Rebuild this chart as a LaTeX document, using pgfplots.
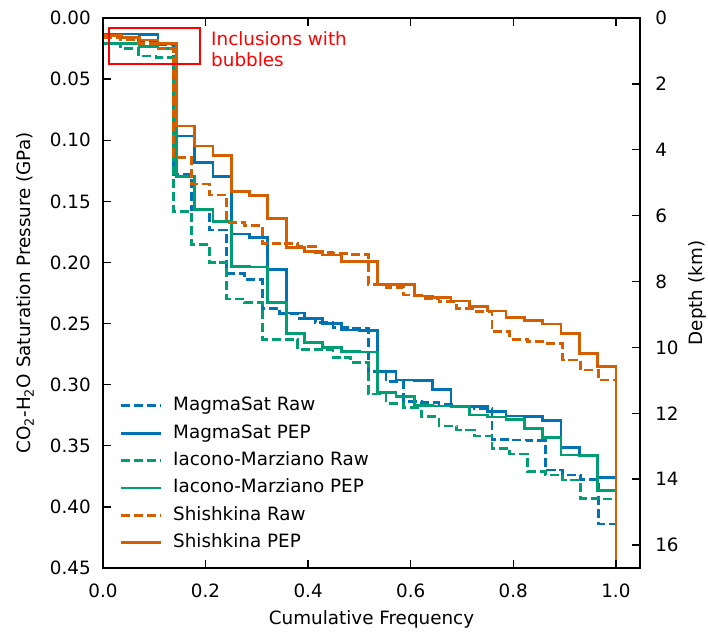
\documentclass[border=0pt]{standalone}
\usepackage{pgfplots}
\pgfplotsset{compat=1.18}
\usepackage{fontspec}
\setmainfont{DejaVu Sans}
\usetikzlibrary{calc}
\definecolor{cbblue}{HTML}{0173B2}
\definecolor{cbgreen}{HTML}{029E73}
\definecolor{cborange}{HTML}{D55E00}
\newcommand{\fs}{\fontsize{13.2}{15.8}\selectfont}
\pgfplotsset{frameaxis/.style={at={(0pt,0pt)}, anchor=south west, scale only axis, width=386.64pt, height=396pt, xmin=0, xmax=1.047, tick align=inside, major tick length=6pt, minor tick num=0, axis line style={line width=1.3pt}, every tick/.style={black, line width=1pt}, /pgf/number format/assume math mode=true},
 tickonly/.style={tick align=inside, major tick length=6pt, minor tick num=0, every tick/.style={black, line width=1pt}, axis line style={line width=1.3pt}}}
\begin{document}
\begin{tikzpicture}
\useasboundingbox (-74.16pt,-47.52pt) rectangle (435.6pt,408.96pt);
\begin{axis}[
 frameaxis, y dir=reverse, ymin=0, ymax=0.45, major tick length=0pt,
 xtick={0,0.2,0.4,0.6,0.8,1.0},
 ytick={0,0.05,0.1,0.15,0.2,0.25,0.3,0.35,0.4,0.45},
 xtick pos=bottom, ytick pos=left,
 scaled y ticks=false, scaled x ticks=false,
 xticklabel style={font=\fs, anchor=base, inner sep=0pt, yshift=-21.5pt, /pgf/number format/fixed, /pgf/number format/fixed zerofill, /pgf/number format/precision=1},
 yticklabel style={font=\fs, anchor=east, inner sep=0pt, xshift=-8.64pt, /pgf/number format/fixed, /pgf/number format/fixed zerofill, /pgf/number format/precision=2},
 xlabel={Cumulative Frequency},
 ylabel={CO\textsubscript{2}-H\textsubscript{2}O Saturation Pressure (GPa)},
 every axis x label/.style={at={($(axis description cs:0.5,0)+(0pt,-37pt)$)}, anchor=center, font=\fs},
 every axis y label/.style={at={($(axis description cs:0,0.5)+(-56.16pt,0pt)$)}, anchor=center, rotate=90, font=\fs},
 legend style={at={(0.0317,0.3100)}, anchor=north west, draw=none, fill=none, inner sep=0pt, outer sep=0pt, row sep=7.7pt, font=\fs, nodes={inner sep=0pt, text height=9.5pt, text depth=2.5pt}, /tikz/every odd column/.append style={column sep=8pt}},
 legend cell align=left,
 legend image code/.code={\draw[#1] (0pt,0pt) -- (28.3pt,0pt);},
]
\addplot[cbblue, line width=2pt, dash pattern=on 6.5pt off 2.8pt, const plot] coordinates {(0,0.014)(0.034483,0.016)(0.068966,0.019)(0.103448,0.022)(0.137931,0.128)(0.172414,0.157)(0.206897,0.1735)(0.241379,0.209)(0.275862,0.2138)(0.310345,0.2375)(0.344828,0.2416)(0.379310,0.2457)(0.413793,0.2493)(0.448276,0.2535)(0.482759,0.254)(0.517241,0.2894)(0.551724,0.2976)(0.586207,0.3140)(0.620690,0.3148)(0.655172,0.316)(0.689655,0.318)(0.724138,0.3193)(0.758621,0.3448)(0.793103,0.3453)(0.827586,0.3456)(0.862069,0.3698)(0.896552,0.3739)(0.931034,0.3774)(0.965517,0.414)(1,0.414)};
\addlegendentry{MagmaSat Raw}
\addplot[cbblue, line width=2pt, const plot] coordinates {(0,0.013)(0.035714,0.013)(0.071429,0.0135)(0.107143,0.0205)(0.142857,0.0965)(0.178571,0.1184)(0.214286,0.1298)(0.25,0.1767)(0.285714,0.1795)(0.321429,0.2056)(0.357143,0.2414)(0.392857,0.2457)(0.428571,0.2498)(0.464286,0.2553)(0.5,0.2556)(0.535714,0.2894)(0.571429,0.2962)(0.607143,0.2965)(0.642857,0.3038)(0.678571,0.3175)(0.714286,0.3178)(0.75,0.3221)(0.785714,0.3256)(0.821429,0.3258)(0.857143,0.3295)(0.892857,0.3513)(0.928571,0.3576)(0.964286,0.376)(1,0.376)};
\addlegendentry{MagmaSat PEP}
\addplot[cbgreen, line width=2pt, dash pattern=on 6.5pt off 2.8pt, const plot] coordinates {(0,0.0207)(0.034483,0.0248)(0.068966,0.031)(0.103448,0.032)(0.137931,0.1585)(0.172414,0.1852)(0.206897,0.2002)(0.241379,0.2299)(0.275862,0.2329)(0.310345,0.2629)(0.344828,0.2632)(0.379310,0.2710)(0.413793,0.2712)(0.448276,0.2776)(0.482759,0.282)(0.517241,0.3076)(0.551724,0.3153)(0.586207,0.3188)(0.620690,0.3262)(0.655172,0.3338)(0.689655,0.3371)(0.724138,0.342)(0.758621,0.352)(0.793103,0.3567)(0.827586,0.3712)(0.862069,0.3739)(0.896552,0.378)(0.931034,0.393)(0.965517,0.3935)(1,0.3935)};
\addlegendentry{Iacono-Marziano Raw}
\addplot[cbgreen, line width=2pt, const plot] coordinates {(0,0.0207)(0.035714,0.0209)(0.071429,0.023)(0.107143,0.025)(0.142857,0.1298)(0.178571,0.1565)(0.214286,0.1667)(0.25,0.2035)(0.285714,0.2038)(0.321429,0.2329)(0.357143,0.258)(0.392857,0.2657)(0.428571,0.2695)(0.464286,0.273)(0.5,0.2733)(0.535714,0.3066)(0.571429,0.3098)(0.607143,0.3170)(0.642857,0.3175)(0.678571,0.3178)(0.714286,0.3248)(0.75,0.3265)(0.785714,0.3283)(0.821429,0.3357)(0.857143,0.343)(0.892857,0.3576)(0.928571,0.3578)(0.964286,0.3868)(1,0.3868)};
\addlegendentry{Iacono-Marziano PEP}
\addplot[cborange, line width=2pt, dash pattern=on 6.5pt off 2.8pt, const plot] coordinates {(0,0.016)(0.034483,0.018)(0.068966,0.021)(0.103448,0.025)(0.137931,0.1143)(0.172414,0.1358)(0.206897,0.1448)(0.241379,0.1675)(0.275862,0.170)(0.310345,0.1845)(0.344828,0.1848)(0.379310,0.187)(0.413793,0.192)(0.448276,0.193)(0.482759,0.1935)(0.517241,0.2179)(0.551724,0.2203)(0.586207,0.2266)(0.620690,0.2293)(0.655172,0.2321)(0.689655,0.2375)(0.724138,0.2403)(0.758621,0.2567)(0.793103,0.2629)(0.827586,0.265)(0.862069,0.2665)(0.896552,0.2798)(0.931034,0.288)(0.965517,0.2962)(1,0.2962)};
\addlegendentry{Shishkina Raw}
\addplot[cborange, line width=2pt, const plot] coordinates {(0,0.014)(0.035714,0.016)(0.071429,0.018)(0.107143,0.021)(0.142857,0.0884)(0.178571,0.1047)(0.214286,0.1126)(0.25,0.142)(0.285714,0.1454)(0.321429,0.164)(0.357143,0.1876)(0.392857,0.191)(0.428571,0.194)(0.464286,0.199)(0.5,0.1993)(0.535714,0.218)(0.571429,0.2183)(0.607143,0.2275)(0.642857,0.229)(0.678571,0.2315)(0.714286,0.236)(0.75,0.2397)(0.785714,0.245)(0.821429,0.2477)(0.857143,0.2504)(0.892857,0.258)(0.928571,0.2743)(0.964286,0.2853)(1,0.2853)(1,0.5)};
\addlegendentry{Shishkina PEP}
\draw[red, line width=1.4pt] (axis cs:0.0123,0.0084) rectangle (axis cs:0.189,0.0376);
\node[anchor=base west, inner sep=0pt, text=red, font=\fs] at (axis cs:0.2105,0.0221) {Inclusions with};
\node[anchor=base west, inner sep=0pt, text=red, font=\fs] at (axis cs:0.2105,0.0393) {bubbles};
\end{axis}
% left y ticks: x unit vector points left, so the "right" side lies on the left spine
\begin{axis}[tickonly, at={(0pt,0pt)}, anchor=origin, x={(-369.28pt,0pt)}, y={(0pt,880pt)},
 xmin=-1.047, xmax=0, ymin=0, ymax=0.45, xtick=\empty,
 ytick={0,0.05,0.1,0.15,0.2,0.25,0.3,0.35,0.4,0.45}, yticklabels={}, ytick pos=right]
\end{axis}
% x ticks at the top (axes swapped: the y ticks run along the top spine)
\begin{axis}[tickonly, at={(0pt,0pt)}, anchor=origin, x={(0pt,396pt)}, y={(369.28pt,0pt)},
 xmin=0, xmax=1, ymin=0, ymax=1.047, xtick=\empty,
 ytick={0,0.2,0.4,0.6,0.8,1.0}, yticklabels={}, ytick pos=right]
\end{axis}
% x ticks at the bottom
\begin{axis}[tickonly, at={(0pt,396pt)}, anchor=origin, x={(0pt,-396pt)}, y={(369.28pt,0pt)},
 xmin=0, xmax=1, ymin=0, ymax=1.047, xtick=\empty,
 ytick={0,0.2,0.4,0.6,0.8,1.0}, yticklabels={}, ytick pos=right]
\end{axis}
% depth axis
\begin{axis}[frameaxis, y dir=reverse, ymin=0, ymax=16.70,
 xtick=\empty, ytick={0,2,4,6,8,10,12,14,16},
 ytick pos=right, yticklabel pos=right,
 yticklabel style={font=\fs, anchor=west, inner sep=0pt, xshift=10.8pt},
 ylabel={Depth (km)},
 every axis y label/.style={at={($(axis description cs:1,0.5)+(41pt,0pt)$)}, anchor=center, rotate=90, font=\fs},
]
\end{axis}
\end{tikzpicture}
\end{document}
